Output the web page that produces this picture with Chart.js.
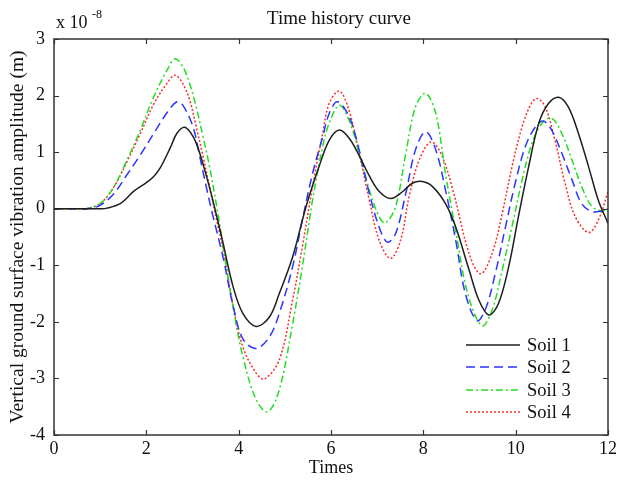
<!DOCTYPE html>
<html>
<head>
<meta charset="utf-8">
<script src="https://cdn.jsdelivr.net/npm/chart.js@4"></script>
<style>
  html, body { margin: 0; padding: 0; background: #fff; }
  canvas { display: block; }
</style>
</head>
<body>
<canvas id="chart" width="620" height="481"></canvas>
<script>
// tick values (amplitudes in units of 1e-8 m)
const xTicks = [0, 2, 4, 6, 8, 10, 12];
const yTicks = [-4, -3, -2, -1, 0, 1, 2, 3];

const seriesNames = ['Soil 1', 'Soil 2', 'Soil 3', 'Soil 4'];

// Soil 1
const soil1Time = [0, 0.5, 1.0, 1.15, 1.45, 1.73, 2.0, 2.16, 2.3, 2.52, 2.66, 2.83, 3.01, 3.15, 3.3, 3.44, 3.66, 3.87, 4.09, 4.38, 4.67, 4.88, 5.17, 5.46, 5.74, 5.96, 6.18, 6.39, 6.61, 6.83, 7.04, 7.29, 7.55, 7.76, 7.98, 8.2, 8.48, 8.7, 8.99, 9.2, 9.42, 9.63, 9.85, 10.06, 10.28, 10.5, 10.71, 10.93, 11.14, 11.36, 11.58, 11.79, 12];
const soil1Amp = [0, 0, 0, 0.01, 0.1, 0.31, 0.46, 0.57, 0.72, 1.08, 1.33, 1.44, 1.28, 1.0, 0.58, 0.15, -0.6, -1.35, -1.85, -2.08, -1.91, -1.5, -0.85, 0.04, 0.74, 1.21, 1.39, 1.25, 0.94, 0.58, 0.31, 0.18, 0.3, 0.45, 0.48, 0.39, 0.09, -0.32, -1.08, -1.61, -1.88, -1.67, -1.02, -0.14, 0.74, 1.51, 1.86, 1.97, 1.8, 1.33, 0.74, 0.15, -0.26];

// Soil 2
const soil2Time = [0, 0.5, 0.72, 1.0, 1.3, 1.58, 1.87, 2.16, 2.45, 2.66, 2.79, 3.01, 3.15, 3.3, 3.44, 3.66, 3.87, 4.09, 4.38, 4.67, 4.88, 5.17, 5.38, 5.6, 5.82, 5.96, 6.14, 6.39, 6.61, 6.83, 7.04, 7.22, 7.4, 7.62, 7.83, 8.05, 8.27, 8.48, 8.7, 8.91, 9.16, 9.34, 9.56, 9.78, 9.99, 10.21, 10.43, 10.6, 10.78, 11.0, 11.22, 11.43, 11.65, 11.87, 12];
const soil2Amp = [0, 0, 0, 0.06, 0.27, 0.6, 0.95, 1.33, 1.7, 1.89, 1.83, 1.45, 0.95, 0.38, -0.12, -0.85, -1.68, -2.3, -2.47, -2.26, -1.85, -1.02, -0.2, 0.62, 1.27, 1.68, 1.89, 1.63, 1.04, 0.27, -0.32, -0.59, -0.44, 0.27, 1.04, 1.36, 1.04, 0.33, -0.55, -1.5, -1.98, -1.79, -1.14, -0.32, 0.45, 1.1, 1.45, 1.55, 1.39, 0.98, 0.51, 0.09, -0.05, -0.04, 0];

// Soil 3
const soil3Time = [0, 0.5, 0.7, 1.0, 1.3, 1.58, 1.87, 2.16, 2.45, 2.62, 2.79, 2.94, 3.08, 3.23, 3.37, 3.55, 3.66, 3.87, 4.09, 4.38, 4.63, 4.88, 5.17, 5.38, 5.6, 5.82, 5.96, 6.18, 6.39, 6.61, 6.83, 7.04, 7.18, 7.4, 7.62, 7.83, 8.05, 8.27, 8.48, 8.7, 8.96, 9.27, 9.49, 9.71, 9.92, 10.14, 10.35, 10.57, 10.78, 11.0, 11.22, 11.43, 11.65, 11.87, 12];
const soil3Amp = [0, 0, 0, 0.09, 0.39, 0.86, 1.39, 1.98, 2.45, 2.65, 2.51, 2.21, 1.8, 1.27, 0.74, -0.08, -0.65, -1.7, -2.61, -3.38, -3.59, -3.2, -2.03, -1.02, 0.15, 1.1, 1.51, 1.83, 1.57, 0.98, 0.33, -0.14, -0.25, 0.04, 0.98, 1.8, 2.04, 1.68, 0.62, -0.38, -1.5, -2.07, -1.79, -1.08, -0.32, 0.51, 1.15, 1.51, 1.6, 1.33, 0.86, 0.39, 0.04, -0.04, 0];

// Soil 4
const soil4Time = [0, 0.5, 0.7, 1.0, 1.3, 1.58, 1.87, 2.16, 2.45, 2.62, 2.79, 2.94, 3.08, 3.23, 3.37, 3.55, 3.66, 3.87, 4.09, 4.38, 4.56, 4.88, 5.17, 5.38, 5.6, 5.82, 5.96, 6.18, 6.39, 6.61, 6.83, 7.04, 7.29, 7.51, 7.69, 7.91, 8.16, 8.38, 8.64, 8.99, 9.24, 9.49, 9.71, 9.92, 10.14, 10.32, 10.46, 10.64, 10.85, 11.07, 11.29, 11.58, 11.79, 12];
const soil4Amp = [0, 0, 0, 0.09, 0.39, 0.83, 1.33, 1.85, 2.22, 2.36, 2.21, 1.92, 1.45, 0.92, 0.39, -0.3, -0.7, -1.67, -2.44, -2.91, -3.01, -2.67, -1.61, -0.67, 0.39, 1.33, 1.86, 2.08, 1.74, 0.98, 0.15, -0.55, -0.88, -0.55, 0.21, 0.86, 1.18, 0.98, 0.33, -0.79, -1.15, -0.79, -0.08, 0.74, 1.45, 1.83, 1.95, 1.8, 1.21, 0.45, -0.14, -0.42, -0.2, 0.3];

const serif = "'Liberation Serif', 'Times New Roman', serif";

function toPoints(ts, vs) {
    return ts.map((t, i) => ({ x: t, y: vs[i] }));
}

const styles = [
    { color: '#1e1e1e', dash: [] },
    { color: '#2b35ff', dash: [9, 5] },
    { color: '#22dd22', dash: [7, 3, 2, 3] },
    { color: '#ff2a2a', dash: [2, 2] }
];

const allTimes = [soil1Time, soil2Time, soil3Time, soil4Time];
const allAmps = [soil1Amp, soil2Amp, soil3Amp, soil4Amp];

const datasets = seriesNames.map((name, i) => ({
    label: name,
    data: toPoints(allTimes[i], allAmps[i]),
    borderColor: styles[i].color,
    borderDash: styles[i].dash,
    borderWidth: 1.5,
    pointRadius: 0,
    fill: false,
    tension: 0.35
}));

// frame, inward ticks, title, exponent and legend
const decorations = {
    id: 'decorations',
    afterDatasetsDraw(chart) {
        const { ctx, chartArea: a, scales: { x, y } } = chart;
        ctx.save();
        ctx.strokeStyle = '#333';
        ctx.lineWidth = 1.5;
        ctx.setLineDash([]);
        ctx.strokeRect(a.left, a.top, a.right - a.left, a.bottom - a.top);

        ctx.lineWidth = 1.2;
        ctx.beginPath();
        xTicks.forEach(v => {
            const px = Math.round(x.getPixelForValue(v)) + 0.5;
            ctx.moveTo(px, a.bottom); ctx.lineTo(px, a.bottom - 5);
            ctx.moveTo(px, a.top); ctx.lineTo(px, a.top + 5);
        });
        yTicks.forEach(v => {
            const py = Math.round(y.getPixelForValue(v)) + 0.5;
            ctx.moveTo(a.left, py); ctx.lineTo(a.left + 5, py);
            ctx.moveTo(a.right, py); ctx.lineTo(a.right - 5, py);
        });
        ctx.stroke();

        // title
        ctx.fillStyle = '#111';
        ctx.textBaseline = 'alphabetic';
        ctx.textAlign = 'center';
        ctx.font = '19px ' + serif;
        ctx.fillText('Time history curve', 339, 24);

        // exponent
        ctx.textAlign = 'left';
        ctx.font = '18px ' + serif;
        ctx.fillText('x 10', 56, 28);
        ctx.font = '12px ' + serif;
        ctx.fillText('-8', 92, 18);

        // legend
        const rows = [345, 367, 390, 412];
        ctx.font = '18.5px ' + serif;
        ctx.textBaseline = 'middle';
        chart.data.datasets.forEach((ds, i) => {
            ctx.strokeStyle = ds.borderColor;
            ctx.lineWidth = 1.5;
            ctx.setLineDash(ds.borderDash);
            ctx.beginPath();
            ctx.moveTo(466, rows[i]);
            ctx.lineTo(520, rows[i]);
            ctx.stroke();
            ctx.fillStyle = '#111';
            ctx.fillText(ds.label, 527, rows[i] + 1);
        });
        ctx.restore();
    }
};

new Chart(document.getElementById('chart'), {
    type: 'line',
    data: { datasets: datasets },
    options: {
        responsive: false,
        animation: false,
        devicePixelRatio: 1,
        layout: { padding: { top: 39, right: 10, left: 0, bottom: 0 } },
        plugins: {
            legend: { display: false },
            tooltip: { enabled: false }
        },
        scales: {
            x: {
                type: 'linear',
                min: 0,
                max: 12,
                afterFit: s => { s.height = 46; },
                afterBuildTicks: s => { s.ticks = xTicks.map(v => ({ value: v })); },
                grid: { display: false, drawTicks: false },
                border: { display: false },
                ticks: { color: '#111', padding: 3, font: { family: serif, size: 18 } },
                title: { display: true, text: 'Times', color: '#111', padding: { top: 0, bottom: 2 }, font: { family: serif, size: 18 } }
            },
            y: {
                type: 'linear',
                min: -4,
                max: 3,
                afterFit: s => { s.width = 54; },
                afterBuildTicks: s => { s.ticks = yTicks.map(v => ({ value: v })); },
                grid: { display: false, drawTicks: false },
                border: { display: false },
                ticks: { color: '#111', padding: 9, font: { family: serif, size: 18 } },
                title: { display: true, text: 'Vertical ground surface vibration amplitude (m)', color: '#111', padding: { top: 6, bottom: 0 }, font: { family: serif, size: 19.5 } }
            }
        }
    },
    plugins: [decorations]
});
</script>
</body>
</html>
